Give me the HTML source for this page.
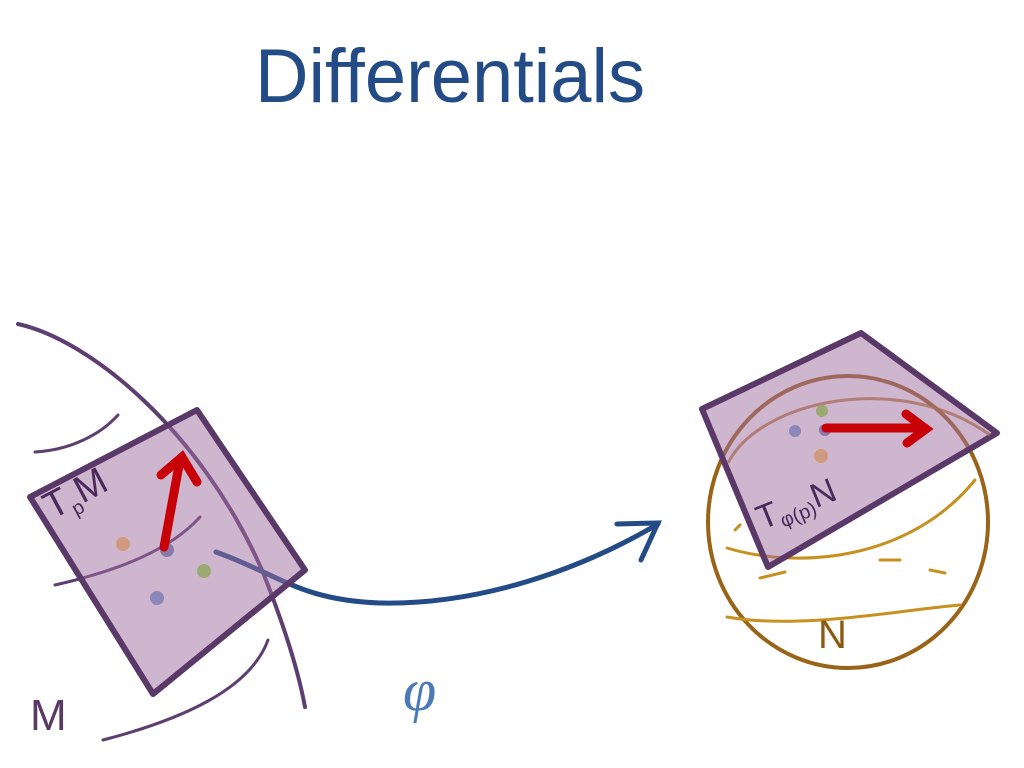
<!DOCTYPE html>
<html><head><meta charset="utf-8"><style>
html,body{margin:0;padding:0;background:#fff;width:1024px;height:768px;overflow:hidden}
</style></head><body>
<svg width="1024" height="768" viewBox="0 0 1024 768" xmlns="http://www.w3.org/2000/svg">
<text x="450" y="102" text-anchor="middle" font-family="Liberation Sans, sans-serif" font-size="76" fill="#234c86" textLength="390" lengthAdjust="spacingAndGlyphs">Differentials</text>
<!-- manifold M -->
<g fill="none" stroke="#5e3d70" stroke-linecap="round">
<path d="M18 324 C90 340 200 430 262 570 C290 640 300 680 305 707" stroke-width="4"/>
<path d="M35 452 C70 450 100 435 118 415" stroke-width="3"/>
<path d="M55 585 C120 570 170 550 200 517" stroke-width="3"/>
<path d="M103 740 C180 720 250 690 268 640" stroke-width="3"/>
</g>
<!-- blue arrow -->
<g fill="none" stroke="#234c86" stroke-linecap="round" stroke-width="5">
<path d="M216 552 C280 575 300 600 380 603 C480 605 580 570 658 524"/>
<path d="M617 524 L658 523 L641 560"/>
</g>
<!-- left plane -->
<polygon points="30,497 197,410 305,570 153,694" fill="rgba(160,110,160,0.5)" stroke="#5a3868" stroke-width="6" stroke-linejoin="round"/>
<circle cx="123" cy="544" r="7" fill="#d09a7e"/>
<circle cx="204" cy="571" r="7" fill="#9aaa72"/>
<circle cx="157" cy="598" r="7" fill="#8a88b8"/>
<circle cx="167" cy="550" r="7" fill="#8a7aa8"/>
<g stroke="#c80008" stroke-width="9" stroke-linecap="round" fill="none">
<path d="M164 547 L180 460"/><path d="M161 475 L182 457 L197 482"/>
</g>
<text x="52" y="520" font-family="Liberation Sans, sans-serif" font-size="38" fill="#4a2a5a" transform="rotate(-28 52 520)">T<tspan font-size="20" dy="8">p</tspan><tspan dy="-8">M</tspan></text>
<text x="30" y="730" font-family="Liberation Sans, sans-serif" font-size="44" fill="#5a3868">M</text>
<text x="403" y="710" font-family="Liberation Serif, serif" font-style="italic" font-size="60" fill="#4a7ab8">φ</text>
<!-- sphere -->
<g fill="none" stroke="#9a6418" stroke-linecap="round">
<ellipse cx="848" cy="522" rx="140" ry="146" stroke-width="4"/>
<path d="M727 548 C800 570 910 560 975 480" stroke="#c8901e" stroke-width="3"/>
<path d="M727 617 C800 630 900 610 960 605" stroke="#c8901e" stroke-width="3"/>
<path d="M740 525 L735 530 M760 578 L785 572 M880 560 L900 560 M930 570 L945 573" stroke="#c8901e" stroke-width="3"/>
</g>
<text x="818" y="648" font-family="Liberation Sans, sans-serif" font-size="40" fill="#8a5a10">N</text>
<!-- right plane -->
<polygon points="702,409 861,333 997,433 768,567" fill="rgba(160,110,160,0.5)" stroke="#5a3868" stroke-width="6" stroke-linejoin="round"/>
<path d="M728 463 C760 400 900 370 990 435" fill="none" stroke="#a87060" stroke-width="3" opacity="0.8"/>
<circle cx="822" cy="411" r="6" fill="#9aaa72"/>
<circle cx="795" cy="431" r="6" fill="#8a88b8"/>
<circle cx="825" cy="430" r="6" fill="#8a7aa8"/>
<circle cx="821" cy="456" r="7" fill="#d09a7e"/>
<g stroke="#c80008" stroke-width="9" stroke-linecap="round" fill="none">
<path d="M826 428 L925 428"/><path d="M906 414 L926 429 L907 443"/>
</g>
<text x="762" y="530" font-family="Liberation Sans, sans-serif" font-size="34" fill="#4a2a5a" transform="rotate(-22 762 530)">T<tspan font-size="20" dy="6">φ(p)</tspan><tspan dy="-6">N</tspan></text>
</svg>
</body></html>
